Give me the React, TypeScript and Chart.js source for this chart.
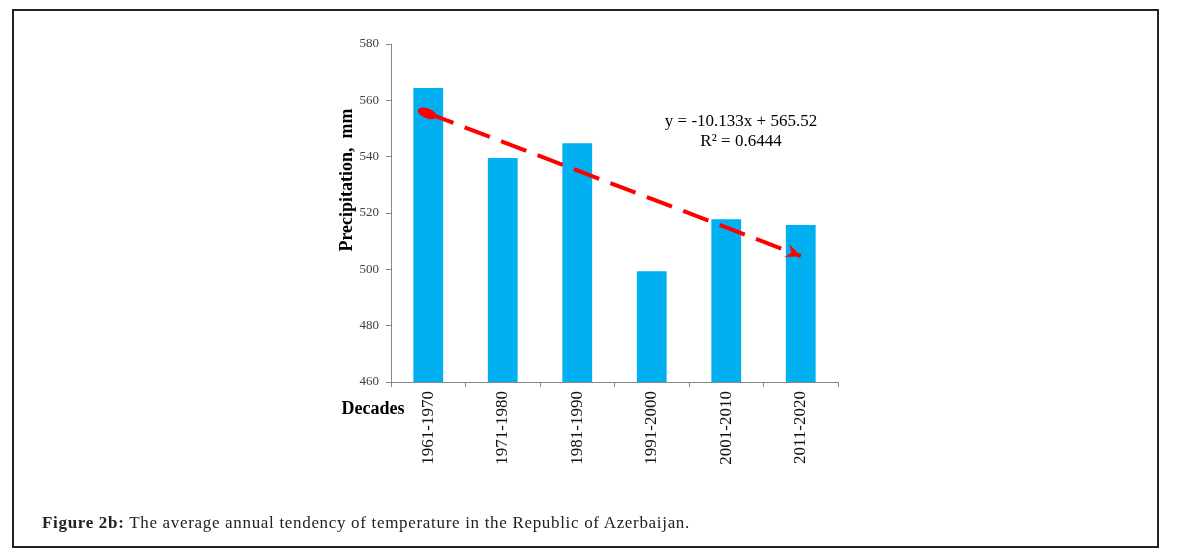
import React, { useEffect, useRef } from "react";
import { Chart, registerables } from "chart.js";

Chart.register(...registerables);

const categories = ["1961-1970", "1971-1980", "1981-1990", "1991-2000", "2001-2010", "2011-2020"];
const precipitation = [564.4, 539.5, 544.8, 499.3, 517.8, 515.7];
const trendValues = [555.39, 545.25, 535.12, 524.99, 514.86, 504.72];
const yTicks = [460, 480, 500, 520, 540, 560, 580];
const equationLines = ["y = -10.133x + 565.52", "R² = 0.6444"];
const yTitle = "Precipitation,  mm";
const xTitle = "Decades";

const SERIF = '"Liberation Serif", "Times New Roman", serif';

const annotationPlugin = {
  id: "annotations",
  afterDatasetsDraw(chart: any) {
    const ctx = chart.ctx as CanvasRenderingContext2D;
    const meta = chart.getDatasetMeta(1);
    if (!meta || !meta.data || meta.data.length < 2) return;
    const p0 = meta.data[0];
    const p1 = meta.data[meta.data.length - 1];
    const ang = Math.atan2(p1.y - p0.y, p1.x - p0.x);
    ctx.save();
    ctx.fillStyle = "#FF0000";
    // oval start marker
    ctx.beginPath();
    ctx.ellipse(p0.x - 1, p0.y, 10, 5, ang, 0, Math.PI * 2);
    ctx.fill();
    // arrowhead at end
    ctx.translate(p1.x, p1.y);
    ctx.rotate(ang);
    ctx.beginPath();
    ctx.moveTo(0, 0);
    ctx.lineTo(-15, -7);
    ctx.lineTo(-10, 0);
    ctx.lineTo(-15, 7);
    ctx.closePath();
    ctx.fill();
    ctx.restore();
  },
  afterDraw(chart: any) {
    const ctx = chart.ctx as CanvasRenderingContext2D;
    const area = chart.chartArea;
    ctx.save();
    ctx.fillStyle = "#000";
    // y title
    ctx.font = `bold 18px ${SERIF}`;
    ctx.textAlign = "center";
    ctx.textBaseline = "middle";
    ctx.translate(area.left - 44, area.top + 136);
    ctx.rotate(-Math.PI / 2);
    ctx.fillText(yTitle, 0, 0);
    ctx.restore();

    ctx.save();
    ctx.fillStyle = "#000";
    ctx.font = `bold 18px ${SERIF}`;
    ctx.textAlign = "center";
    ctx.textBaseline = "middle";
    ctx.fillText(xTitle, area.left - 18, area.bottom + 27);

    ctx.font = `17px ${SERIF}`;
    ctx.fillText(equationLines[0], 741, 122);
    ctx.fillText(equationLines[1], 741, 142);
    ctx.restore();
  },
};

export default function App() {
  const canvasRef = useRef<HTMLCanvasElement | null>(null);

  useEffect(() => {
    if (!canvasRef.current) return;
    const chart = new Chart(canvasRef.current, {
      type: "bar",
      data: {
        labels: categories,
        datasets: [
          {
            type: "bar",
            label: "Precipitation",
            data: precipitation,
            backgroundColor: "#00B0F0",
            borderWidth: 0,
            barPercentage: 0.4,
            categoryPercentage: 1,
            order: 2,
          },
          {
            type: "line",
            label: "Trend",
            data: trendValues,
            borderColor: "#FF0000",
            borderWidth: 4,
            borderDash: [27, 12],
            pointRadius: 0,
            fill: false,
            tension: 0,
            order: 1,
          } as any,
        ],
      },
      options: {
        responsive: false,
        animation: false,
        devicePixelRatio: 1,
        layout: { padding: { left: 331, top: 44, right: 343, bottom: 76 } },
        plugins: {
          legend: { display: false },
          tooltip: { enabled: false },
          title: { display: false },
        },
        scales: {
          x: {
            offset: true,
            grid: {
              offset: true,
              drawOnChartArea: false,
              drawTicks: true,
              tickLength: 5,
              color: "#868686",
            },
            border: { color: "#868686", width: 1 },
            ticks: {
              minRotation: 90,
              maxRotation: 90,
              padding: 4,
              color: "#111",
              font: { family: SERIF, size: 17 },
            },
            afterFit(scale: any) {
              scale.height = 100;
            },
          },
          y: {
            min: 460,
            max: 580,
            afterBuildTicks(scale: any) {
              scale.ticks = yTicks.map((v) => ({ value: v }));
            },
            grid: {
              drawOnChartArea: false,
              drawTicks: true,
              tickLength: 5,
              color: "#868686",
            },
            border: { color: "#868686", width: 1 },
            ticks: {
              padding: 7,
              color: "#404040",
              font: { family: SERIF, size: 13 },
            },
            afterFit(scale: any) {
              scale.width = 60;
            },
          },
        },
      },
      plugins: [annotationPlugin],
    });
    return () => chart.destroy();
  }, []);

  return (
    <div style={{ position: "absolute", left: 0, top: 0, width: 1181, height: 558, background: "#fff" }}>
      <div
        style={{
          position: "absolute",
          left: 12,
          top: 9,
          width: 1147,
          height: 539,
          border: "2px solid #222",
          boxSizing: "border-box",
        }}
      />
      <canvas ref={canvasRef} width={1181} height={558} style={{ position: "absolute", left: 0, top: 0 }} />
      <div
        style={{
          position: "absolute",
          left: 42,
          top: 513,
          fontFamily: SERIF,
          fontSize: 17,
          letterSpacing: "0.68px",
          lineHeight: "20px",
          color: "#222",
          whiteSpace: "nowrap",
        }}
      >
        <b style={{ fontWeight: 600 }}>Figure 2b:</b> The average annual tendency of temperature in the Republic of Azerbaijan.
      </div>
    </div>
  );
}
